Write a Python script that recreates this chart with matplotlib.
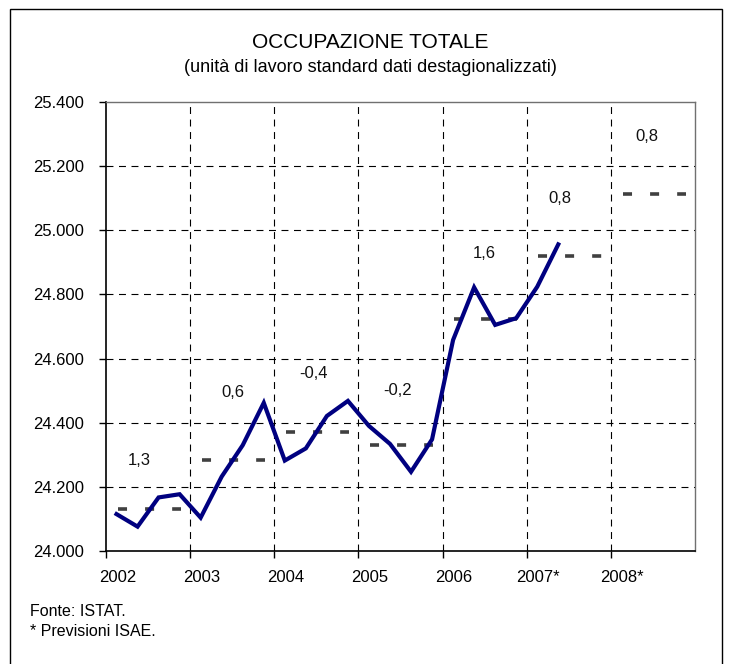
import matplotlib
matplotlib.use("Agg")
import matplotlib.pyplot as plt
from matplotlib.patches import Rectangle
from matplotlib.transforms import blended_transform_factory
import numpy as np

plt.rcParams['font.family'] = ['Liberation Sans', 'DejaVu Sans']
plt.rcParams['lines.scale_dashes'] = False

# Quarterly data 2002Q1 - 2007Q2 (thousands of standard labour units)
quarterly = [24115, 24076, 24167, 24177,
             24104, 24232, 24330, 24462,
             24282, 24320, 24421, 24468,
             24390, 24334, 24247, 24348,
             24658, 24822, 24705, 24726,
             24824, 24956]
years = [2002, 2003, 2004, 2005, 2006, 2007, 2008]
year_labels = ["2002", "2003", "2004", "2005", "2006", "2007*", "2008*"]
annual_avg = [24132, 24284, 24372, 24330, 24723, 24921, 25113]
growth_labels = ["1,3", "0,6", "-0,4", "-0,2", "1,6", "0,8", "0,8"]
growth_label_y = [24281, 24493, 24552, 24502, 24929, 25100, 25291]
growth_label_xoff = [0.39, 0.51, 0.47, 0.46, 0.49, 0.39, 0.43]
yticks = [24000, 24200, 24400, 24600, 24800, 25000, 25200, 25400]

W, H = 731, 664
fig = plt.figure(figsize=(W / 100, H / 100), dpi=100)
ax = fig.add_axes([106 / W, (H - 551) / H, (695 - 106) / W, (551 - 102) / H])

# figure border (open at the bottom)
fig.patches.append(Rectangle((10 / W, -0.05), (722 - 10) / W, (H - 9) / H + 0.05,
                             transform=fig.transFigure, fill=False,
                             edgecolor='black', linewidth=1.0))

qx = [2002 + i / 4 + 0.125 for i in range(len(quarterly))]
ax.plot(qx, quarterly, color='#000080', linewidth=3.0, solid_joinstyle='miter', zorder=4)

for yr, avg in zip(years, annual_avg):
    ax.plot([yr + 0.14, yr + 0.89], [avg, avg], color='#404040', linewidth=2.6,
            linestyle=(0, (6.5, 13.0)), solid_capstyle='butt', dash_capstyle='butt', zorder=3)

for yr, lab, ly, xo in zip(years, growth_labels, growth_label_y, growth_label_xoff):
    ax.text(yr + xo, ly, lab, ha='center', va='center', fontsize=12, color='#111111')

ax.set_xlim(2002, 2009)
ax.set_ylim(24000, 25400)
ax.set_yticks(yticks)
ax.set_yticklabels([f"{v:,}".replace(",", ".") for v in yticks], fontsize=12)
ax.set_xticks(years)
ax.set_xticklabels([])
tr = blended_transform_factory(ax.transData, ax.transAxes)
for yr, lab in zip(years, year_labels):
    ax.text(yr + 0.135, -0.058, lab, transform=tr, ha='center', va='center', fontsize=12)

ax.tick_params(axis='both', direction='out', length=5, width=1, color='black', pad=14)
ax.tick_params(axis='y', pad=11)

# grid
for yv in yticks[1:-1]:
    ax.axhline(yv, color='black', linewidth=0.8, linestyle=(0, (5, 4)), zorder=1)
for yr in years[1:]:
    ax.axvline(yr, color='black', linewidth=0.8, linestyle=(0, (5, 4)), zorder=1)

for s in ['left', 'bottom']:
    ax.spines[s].set_color('black')
    ax.spines[s].set_linewidth(1.2)
for s in ['top', 'right']:
    ax.spines[s].set_color('#707070')
    ax.spines[s].set_linewidth(1.0)

fig.text(370 / W, 1 - 42 / H, "OCCUPAZIONE TOTALE", ha='center', va='center', fontsize=15)
fig.text(370 / W, 1 - 68 / H, "(unità di lavoro standard dati destagionalizzati)",
         ha='center', va='center', fontsize=13)
fig.text(30 / W, 1 - 612 / H, "Fonte: ISTAT.", ha='left', va='center', fontsize=11.5)
fig.text(30 / W, 1 - 632 / H, "* Previsioni ISAE.", ha='left', va='center', fontsize=11.5)

fig.savefig("out.png", dpi=100)
